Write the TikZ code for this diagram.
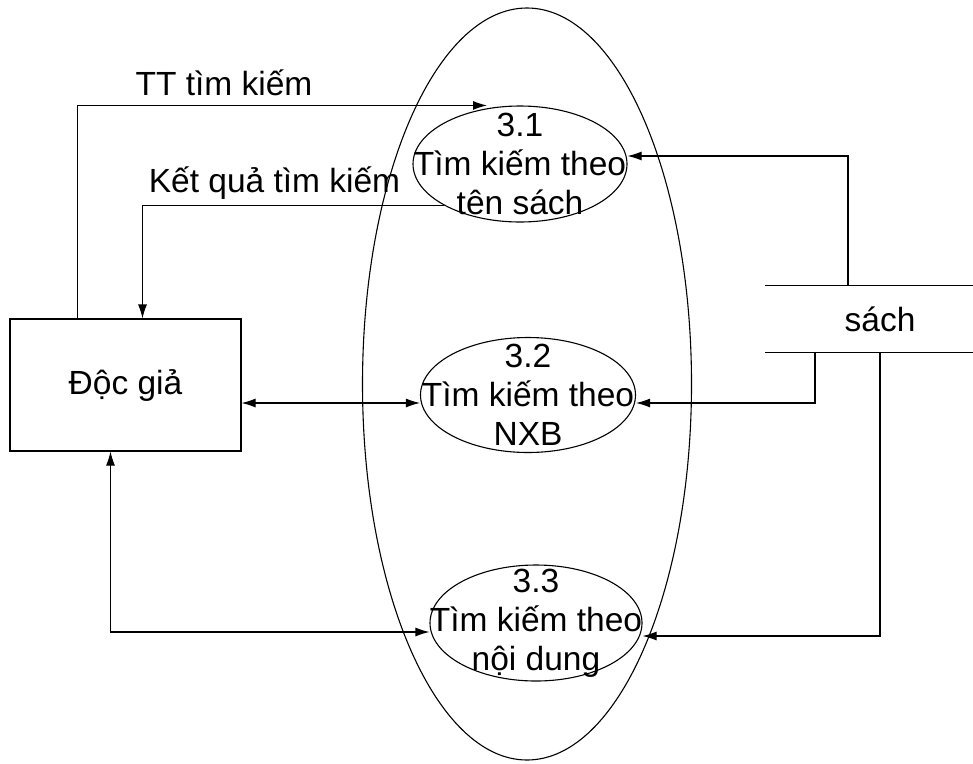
\documentclass[tikz,border=0pt]{standalone}
\usepackage{fontspec}
\setmainfont{Liberation Sans}
\usetikzlibrary{shapes,arrows.meta,calc,positioning}

\begin{document}
\begin{tikzpicture}[x=1pt,y=-1pt,line width=1.1pt,
  font=\fontsize{33.5}{39}\selectfont,
  proc/.style={draw,ellipse,inner sep=0pt},
  txt/.style={align=center,inner sep=0pt},
  flow/.style={-{Latex[length=14pt,width=9pt]}},
  both/.style={{Latex[length=14pt,width=9pt]}-{Latex[length=14pt,width=9pt]}}]
  \useasboundingbox (0,0) rectangle (973,763);

  \node[proc,minimum width=329,minimum height=752] (he) at (527,384) {};

  \node[proc,minimum width=214,minimum height=116,
    label={[txt]center:{3.1\\Tìm kiếm theo\\tên sách}}] (p31) at (520,164) {};
  \node[proc,minimum width=215,minimum height=115,
    label={[txt]center:{3.2\\Tìm kiếm theo\\NXB}}] (p32) at (528,395) {};
  \node[proc,minimum width=212,minimum height=116,
    label={[txt]center:{3.3\\Tìm kiếm theo\\nội dung}}] (p33) at (536,623) {};

  \node[draw,minimum width=231,minimum height=132] (docgia) at (125.5,385) {Độc giả};

  \node[minimum width=228,minimum height=66,inner sep=0pt] (sach) at (880,319) {sách};
  \draw (sach.north west) -- (sach.north east) (sach.south west) -- (sach.south east);

  \draw[flow] ([xshift=-48]docgia.north) |- ([xshift=-33]p31.north);
  \node[anchor=base] (lbltt) at (224,95) {TT tìm kiếm};
  \draw[flow] (p31.south west) -| ([xshift=17]docgia.north);
  \node[anchor=base] (lblkq) at (274.5,192) {Kết quả tìm kiếm};

  \draw[both] ([yshift=-18]docgia.east) -- ([yshift=-8]p32.west);
  \draw[both] ([xshift=-15]docgia.south) |- ([yshift=-9]p33.west);

  \draw[flow] ([xshift=-32]sach.north) |- ([yshift=8]p31.east);
  \draw[flow] ([xshift=-65]sach.south) |- ([yshift=-8]p32.east);
  \draw[flow] (sach.south) |- ([yshift=-13]p33.east);
\end{tikzpicture}
\end{document}
